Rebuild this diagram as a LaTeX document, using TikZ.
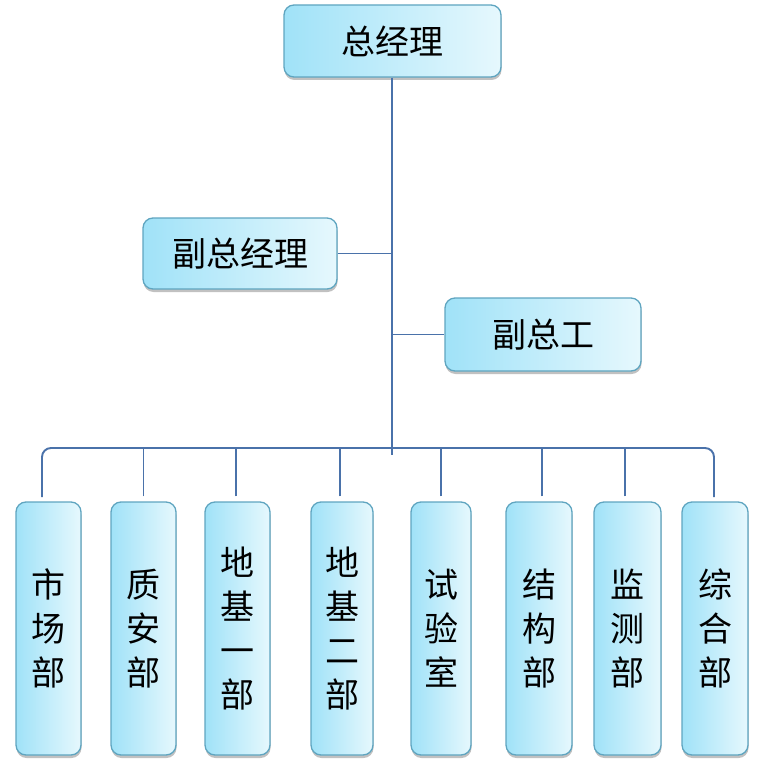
\documentclass[tikz,border=0pt]{standalone}
\usepackage{fontspec}
\setmainfont{Noto Sans CJK SC}
\usetikzlibrary{shadows}
\definecolor{boxL}{RGB}{160,226,248}
\definecolor{boxR}{RGB}{230,248,253}
\definecolor{boxB}{RGB}{95,165,192}
\definecolor{lineC}{RGB}{74,114,170}
\begin{document}
\begin{tikzpicture}[x=1pt,y=-1pt,
  box/.style={draw=boxB, line width=1.3pt, rounded corners=10pt,
    left color=boxL, right color=boxR,
    drop shadow={shadow xshift=0.5pt, shadow yshift=-3pt, opacity=0.35, fill=black!70},
    inner sep=0pt, text=black, font=\fontsize{34}{44}\selectfont, align=center},
  bbox/.style={box, minimum height=253pt},
  conn/.style={draw=lineC, line width=1.9pt}]
\useasboundingbox (0,0) rectangle (763,767);
% top level
\node[box, minimum width=217pt, minimum height=72pt] (gm) at (392.5,41) {总经理};
\node[box, minimum width=194pt, minimum height=71pt] (vp) at (240,253.5) {副总经理};
\node[box, minimum width=196pt, minimum height=73pt] (ve) at (543,334.5) {副总工};
% bottom level
\node[bbox, minimum width=65pt] (b1) at (48.5,628.5) {市\\场\\部};
\node[bbox, minimum width=65pt] (b2) at (143.5,628.5) {质\\安\\部};
\node[bbox, minimum width=65pt] (b3) at (237.5,628.5) {地\\基\\一\\部};
\node[bbox, minimum width=62pt] (b4) at (342,628.5) {地\\基\\二\\部};
\node[bbox, minimum width=60pt] (b5) at (441,628.5) {试\\验\\室};
\node[bbox, minimum width=66pt] (b6) at (539,628.5) {结\\构\\部};
\node[bbox, minimum width=67pt] (b7) at (627.5,628.5) {监\\测\\部};
\node[bbox, minimum width=66pt] (b8) at (715,628.5) {综\\合\\部};
% connectors
\coordinate (trunkend) at (392,455);
\coordinate (bus) at (392,448);
\draw[conn] (gm.south -| trunkend) -- (trunkend);
\draw[conn] (vp.east) -- (vp.east -| trunkend);
\draw[conn] (ve.west -| trunkend) -- (ve.west);
\coordinate (d1) at (42,497);
\coordinate (d8) at (714,497);
\draw[conn, rounded corners=9pt] (d1) |- (bus) -| (d8);
\foreach \b/\dx in {b2/0,b3/-1.5,b4/-2,b5/0,b6/3,b7/-2.5}{
  \draw[conn] ([xshift=\dx pt, yshift=5pt]\b.north) -- ([xshift=\dx pt]\b.north |- bus);
}
\end{tikzpicture}
\end{document}
